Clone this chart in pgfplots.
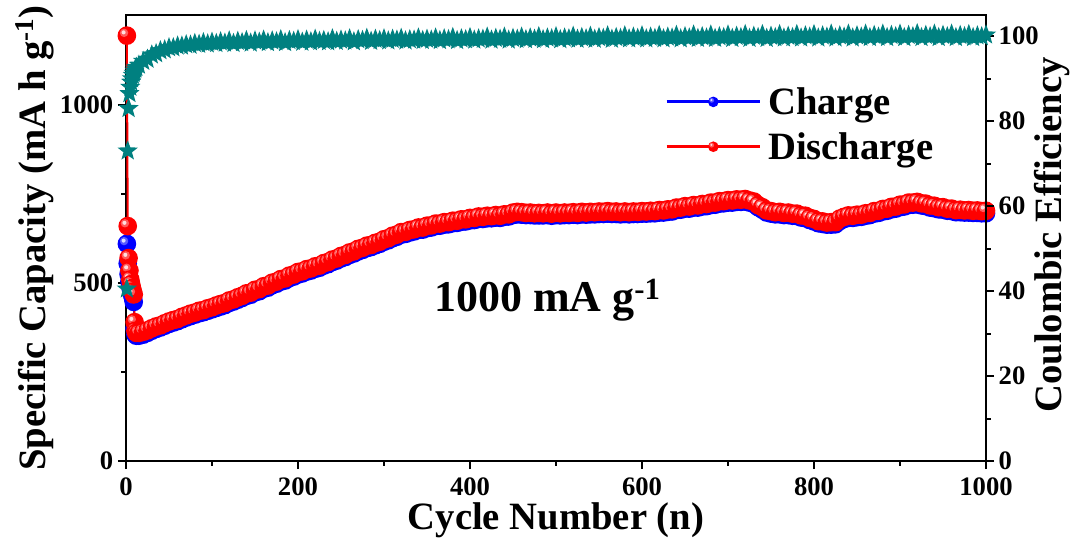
\documentclass[border=0pt]{standalone}
\usepackage{fontspec}
\setmainfont{Liberation Serif}
\usepackage{pgfplots}
\pgfplotsset{compat=1.18}
\usepackage{pgfplotstable}
\definecolor{cegreen}{RGB}{0,128,128}
\pgfdeclareplotmark{fstar}{%
 \pgfpathmoveto{\pgfqpointpolar{90}{\pgfplotmarksize}}%
 \pgfpathlineto{\pgfqpointpolar{126}{0.42\pgfplotmarksize}}%
 \pgfpathlineto{\pgfqpointpolar{162}{\pgfplotmarksize}}%
 \pgfpathlineto{\pgfqpointpolar{198}{0.42\pgfplotmarksize}}%
 \pgfpathlineto{\pgfqpointpolar{234}{\pgfplotmarksize}}%
 \pgfpathlineto{\pgfqpointpolar{270}{0.42\pgfplotmarksize}}%
 \pgfpathlineto{\pgfqpointpolar{306}{\pgfplotmarksize}}%
 \pgfpathlineto{\pgfqpointpolar{342}{0.42\pgfplotmarksize}}%
 \pgfpathlineto{\pgfqpointpolar{18}{\pgfplotmarksize}}%
 \pgfpathlineto{\pgfqpointpolar{54}{0.42\pgfplotmarksize}}%
 \pgfpathclose\pgfusepathqfill}
\pgfdeclareplotmark{sball}{%
 \pgfpathcircle{\pgfpointorigin}{\pgfplotmarksize}\pgfusepathqfill
 \begin{pgfscope}%
 \pgfsetfillcolor{white}\pgfsetfillopacity{0.35}%
 \pgfpathcircle{\pgfpoint{-0.3\pgfplotmarksize}{0.3\pgfplotmarksize}}{0.45\pgfplotmarksize}\pgfusepathqfill
 \pgfsetfillopacity{0.8}%
 \pgfpathcircle{\pgfpoint{-0.35\pgfplotmarksize}{0.35\pgfplotmarksize}}{0.22\pgfplotmarksize}\pgfusepathqfill
 \end{pgfscope}}
\pgfplotstableread{
c d ch ce
1 1195 610 40.5
2 660 555 73.0
3 570 525 83.0
4 535 505 86.5
5 510 490 88.0
6 497 478 89.2
7 486 468 90.0
8 476 458 90.8
9 468 447 91.3
10 390 372 91.8
11 366 355 92.3
12 360 352 92.7
15 360 352 93.2
20 363 355 94.1
25 367 360 94.6
30 373 366 95.6
35 378 371 95.9
40 381 375 96.6
45 387 380 96.8
50 392 385 97.3
55 396 389 97.3
60 399 393 97.7
65 405 398 97.7
70 409 403 98.0
75 414 407 97.9
80 417 411 98.3
85 422 415 98.1
90 424 418 98.5
95 429 422 98.2
100 432 426 98.6
105 437 430 98.3
110 441 434 98.7
115 444 438 98.4
120 451 444 98.9
125 454 448 98.3
130 460 453 98.8
135 464 458 98.5
140 471 464 99.0
145 473 467 98.4
150 481 474 98.9
155 483 477 98.6
160 491 484 99.1
165 493 487 98.5
170 501 494 98.9
175 504 498 98.7
180 511 504 99.2
185 513 507 98.5
190 521 514 99.0
195 524 518 98.8
200 531 524 99.2
205 533 527 98.6
210 539 532 99.1
215 541 535 98.7
220 547 540 99.3
225 549 543 98.8
230 556 549 99.0
235 559 553 98.7
240 566 559 99.4
245 569 563 98.8
250 576 569 99.1
255 579 573 98.9
260 586 579 99.4
265 589 583 98.7
270 596 589 99.2
275 599 593 99.0
280 605 598 99.5
285 607 601 98.8
290 613 606 99.3
295 616 610 99.0
300 623 616 99.4
305 626 620 98.9
310 633 626 99.3
315 636 630 99.1
320 643 636 99.5
325 644 638 98.9
330 649 642 99.2
335 651 645 99.1
340 656 649 99.6
345 656 650 99.0
350 661 654 99.3
355 662 656 99.1
360 667 660 99.6
365 667 661 99.0
370 671 664 99.4
375 671 665 99.2
380 675 668 99.7
385 675 669 99.0
390 679 672 99.4
395 679 673 99.2
400 683 676 99.7
405 683 677 99.1
410 687 680 99.4
415 686 680 99.3
420 689 682 99.8
425 688 682 99.1
430 691 684 99.5
435 689 683 99.3
440 693 686 99.8
445 693 687 99.1
450 698 691 99.5
455 700 693 99.3
460 699 692 99.8
465 697 691 99.2
470 698 691 99.6
475 696 690 99.3
480 697 690 99.9
485 696 690 99.2
490 698 691 99.6
495 695 689 99.4
500 698 691 99.9
505 696 690 99.2
510 698 691 99.6
515 697 691 99.4
520 699 692 100.0
525 697 691 99.3
530 700 693 99.7
535 698 692 99.4
540 700 693 100.0
545 699 693 99.3
550 701 694 99.7
555 700 694 99.5
560 702 695 100.1
565 700 694 99.3
570 701 694 99.7
575 699 693 99.5
580 701 694 100.1
585 699 693 99.4
590 701 694 99.8
595 700 694 99.5
600 702 695 100.1
605 701 695 99.4
610 703 696 99.8
615 702 696 99.5
620 705 698 100.2
625 704 698 99.4
630 707 700 99.8
635 707 701 99.6
640 712 705 100.2
645 712 706 99.4
650 716 709 99.9
655 715 709 99.6
660 719 712 100.3
665 718 712 99.5
670 722 715 99.9
675 722 716 99.6
680 726 719 100.3
685 726 720 99.5
690 730 723 99.9
695 730 724 99.7
700 733 726 100.3
705 732 726 99.5
710 735 728 100.0
715 734 728 99.7
720 736 729 100.4
725 732 726 99.5
730 729 722 100.0
735 719 713 99.7
740 713 706 100.4
745 704 698 99.5
750 702 695 100.0
755 699 693 99.7
760 700 693 100.4
765 697 691 99.6
770 698 691 100.0
775 695 689 99.7
780 695 688 100.4
785 690 684 99.6
790 689 682 100.1
795 683 677 99.8
800 680 673 100.4
805 674 668 99.6
810 673 666 100.1
815 670 664 99.8
820 671 664 100.5
825 671 665 99.6
830 681 674 100.1
835 686 680 99.8
840 690 683 100.5
845 689 683 99.6
850 692 685 100.1
855 692 686 99.8
860 696 689 100.5
865 697 691 99.7
870 702 695 100.2
875 703 697 99.8
880 708 701 100.5
885 709 703 99.7
890 714 707 100.2
895 715 709 99.9
900 720 713 100.5
905 721 715 99.7
910 726 719 100.2
915 726 720 99.9
920 728 721 100.6
925 724 718 99.7
930 723 716 100.2
935 718 712 99.9
940 717 710 100.5
945 713 707 99.7
950 713 706 100.2
955 709 703 99.9
960 709 702 100.5
965 705 699 99.7
970 706 699 100.2
975 704 698 99.9
980 705 698 100.4
985 703 697 99.7
990 704 697 100.1
995 702 696 99.9
1000 703 696 100.3
}\datatable
\pgfplotsset{
  mystyle/.style={
    width=645pt, height=334.5pt, scale only axis,
    xmin=0, xmax=1000,
    tick align=outside,
    major tick length=6pt, minor tick length=3.5pt,
    every tick/.style={black, line width=1.5pt},
    axis line style={line width=1.8pt},
    /pgf/number format/assume math mode=true,
    /pgf/number format/1000 sep={},
    tick label style={font=\bfseries\fontsize{20}{24}\selectfont},
    label style={font=\bfseries\fontsize{29}{34}\selectfont},
  }
}
\begin{document}
\begin{tikzpicture}
\useasboundingbox (-94.5pt,-59.25pt) rectangle (709.5pt,345.75pt);
\begin{axis}[mystyle,
  ymin=0, ymax=1253,
  xtick={0,200,...,1000}, minor x tick num=1,
  ytick={0,500,1000}, minor y tick num=1,
  xtick pos=bottom, ytick pos=left,
  xticklabel style={yshift=-3pt},
  xlabel={Cycle Number (n)},
  ylabel={Specific Capacity (mA h g\textsuperscript{-1})},
  xlabel style={at={(axis description cs:0.5,-0.133)}, anchor=center},
  ylabel style={at={(axis description cs:-0.106,0.5)}, anchor=center},
  legend style={at={(0.622,0.85)}, anchor=north west, draw=none, fill=none,
    font=\bfseries\fontsize{29}{35}\selectfont, row sep=8pt,
    nodes={inner xsep=5pt}},
  legend cell align=left,
  legend image code/.code={\draw[#1, mark repeat=2, mark phase=2, mark size=4pt, line width=2.2pt] plot coordinates {(0cm,0cm) (1.23cm,0cm) (2.46cm,0cm)};},
]
\addplot[blue, line width=1.5pt, mark=sball, mark size=7pt, mark options={fill=blue, draw=none}] table[x=c, y=ch] {\datatable};
\addlegendentry{Charge}
\addplot[red, line width=1.5pt, mark=sball, mark size=7pt, mark options={fill=red, draw=none}] table[x=c, y=d] {\datatable};
\addlegendentry{Discharge}
\node[font=\bfseries\fontsize{33}{38}\selectfont] at (axis cs:490,452) {1000 mA g\textsuperscript{-1}};
\end{axis}
\begin{axis}[mystyle,
  ymin=0, ymax=105,
  axis y line*=right, axis x line=none,
  ytick={0,20,...,100}, minor y tick num=1,
  ylabel={Coulombic Efficiency},
  ylabel style={at={(axis description cs:1.077,0.507)}, anchor=center},
]
\addplot[cegreen, only marks, mark=fstar, mark size=8pt, mark options={fill=cegreen, draw=cegreen}] table[x=c, y=ce] {\datatable};
\end{axis}
\end{tikzpicture}
\end{document}
